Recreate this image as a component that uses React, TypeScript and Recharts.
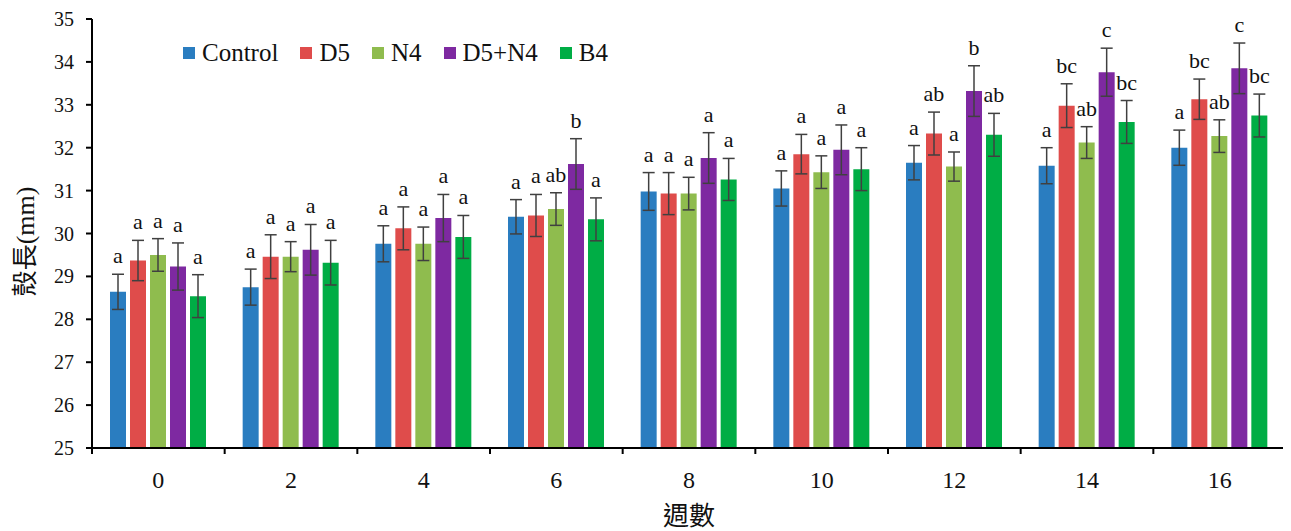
import React from 'react';
import { Bar, BarChart, ErrorBar, Label, LabelList, Legend, XAxis, YAxis } from 'recharts';

const weeks = ['0', '2', '4', '6', '8', '10', '12', '14', '16'];

const control = [28.64, 28.75, 29.76, 30.39, 30.98, 31.05, 31.65, 31.58, 32.0];
const controlErr = [0.41, 0.42, 0.42, 0.4, 0.44, 0.41, 0.4, 0.42, 0.41];
const controlSig = ['a', 'a', 'a', 'a', 'a', 'a', 'a', 'a', 'a'];

const d5 = [29.37, 29.46, 30.12, 30.42, 30.93, 31.85, 32.33, 32.98, 33.13];
const d5Err = [0.47, 0.51, 0.5, 0.49, 0.49, 0.46, 0.5, 0.51, 0.47];
const d5Sig = ['a', 'a', 'a', 'a', 'a', 'a', 'ab', 'bc', 'bc'];

const n4 = [29.5, 29.46, 29.76, 30.57, 30.93, 31.43, 31.56, 32.12, 32.27];
const n4Err = [0.38, 0.35, 0.39, 0.38, 0.38, 0.38, 0.34, 0.37, 0.38];
const n4Sig = ['a', 'a', 'a', 'ab', 'a', 'a', 'a', 'ab', 'ab'];

const d5n4 = [29.23, 29.62, 30.36, 31.62, 31.76, 31.95, 33.32, 33.76, 33.85];
const d5n4Err = [0.55, 0.59, 0.55, 0.59, 0.59, 0.58, 0.59, 0.56, 0.59];
const d5n4Sig = ['a', 'a', 'a', 'b', 'a', 'a', 'b', 'c', 'c'];

const b4 = [28.54, 29.32, 29.92, 30.33, 31.26, 31.5, 32.3, 32.6, 32.75];
const b4Err = [0.5, 0.52, 0.5, 0.5, 0.49, 0.5, 0.5, 0.5, 0.5];
const b4Sig = ['a', 'a', 'a', 'a', 'a', 'a', 'ab', 'bc', 'bc'];

const yTicks = [25, 26, 27, 28, 29, 30, 31, 32, 33, 34, 35];
const Y_MIN = 25;
const Y_MAX = 35;

const SERIF = "'Liberation Serif', 'Times New Roman', Times, 'DejaVu Serif', serif";
const SERIF_CJK = "'Liberation Serif', 'Times New Roman', Times, 'Noto Sans CJK TC', serif";
const TICK_SIZE = 6;
const X_TICK_MARGIN = 17;

const series = [
  { key: 'control', name: 'Control', color: '#2A7DC0', values: control, errors: controlErr, sig: controlSig },
  { key: 'd5', name: 'D5', color: '#DF4C4B', values: d5, errors: d5Err, sig: d5Sig },
  { key: 'n4', name: 'N4', color: '#8FBC4E', values: n4, errors: n4Err, sig: n4Sig },
  { key: 'd5n4', name: 'D5+N4', color: '#7E29A1', values: d5n4, errors: d5n4Err, sig: d5n4Sig },
  { key: 'b4', name: 'B4', color: '#00AD45', values: b4, errors: b4Err, sig: b4Sig },
];

const data = weeks.map((week, i) => {
  const row: Record<string, string | number> = { week };
  series.forEach((s) => {
    row[s.key] = s.values[i];
    row[s.key + 'Err'] = s.errors[i];
    row[s.key + 'Sig'] = s.sig[i];
  });
  return row;
});

// letters sit above the error bar cap; px/unit taken from the bar's own height
const makeSigLabel = (vals: number[], errs: number[]) => (props: any) => {
  const box = props.viewBox ?? props;
  const i = props.index;
  if (box == null || i == null) return null;
  const h = Math.abs(box.height);
  const top = Math.min(box.y, box.y + box.height);
  const pxPerUnit = h / (vals[i] - Y_MIN);
  const capY = top - errs[i] * pxPerUnit;
  return (
    <text
      x={box.x + box.width / 2}
      y={capY - 11}
      textAnchor="middle"
      fontFamily={SERIF}
      fontSize={22}
      fill="#111"
    >
      {props.value}
    </text>
  );
};

const WeekTick = (props: any) => {
  const { x, y, payload, index, visibleTicksCount } = props;
  const half = payload.offset ?? 0;
  const axisY = y - TICK_SIZE - X_TICK_MARGIN;
  return (
    <g>
      <line x1={x - half} x2={x - half} y1={axisY} y2={axisY + TICK_SIZE} stroke="#000" strokeWidth={2} />
      {index === visibleTicksCount - 1 && (
        <line x1={x + half} x2={x + half} y1={axisY} y2={axisY + TICK_SIZE} stroke="#000" strokeWidth={2} />
      )}
      <text x={x} y={y} dy="0.71em" textAnchor="middle" fontFamily={SERIF} fontSize={24} fill="#111">
        {payload.value}
      </text>
    </g>
  );
};

const ValueTick = (props: any) => {
  const { x, y, payload } = props;
  return (
    <text x={x} y={y} dy="0.35em" textAnchor="end" fontFamily={SERIF} fontSize={20} fill="#111">
      {payload.value}
    </text>
  );
};

const seriesOrder = series.map((s) => s.name);

const renderLegend = (props: any) => {
  const items = [...(props.payload || [])].sort(
    (a: any, b: any) => seriesOrder.indexOf(a.value) - seriesOrder.indexOf(b.value)
  );
  return (
    <div style={{ display: 'flex', alignItems: 'center', fontFamily: SERIF, fontSize: 25, color: '#111', lineHeight: '29px' }}>
      {items.map((p: any) => (
        <div key={p.value} style={{ display: 'flex', alignItems: 'center', marginRight: 22 }}>
          <span style={{ display: 'inline-block', width: 12, height: 12, background: p.color, marginRight: 7 }} />
          <span>{p.value}</span>
        </div>
      ))}
    </div>
  );
};

export default function App() {
  return (
    <div style={{ width: 1283, height: 523 }}>
      <BarChart
        width={1283}
        height={523}
        data={data}
        margin={{ top: 11, right: 5, left: 0, bottom: 23 }}
        barSize={16}
        barGap={4}
      >
        <XAxis
          dataKey="week"
          interval={0}
          height={60}
          tickSize={TICK_SIZE}
          tickMargin={X_TICK_MARGIN}
          tickLine={false}
          axisLine={{ stroke: '#000', strokeWidth: 2 }}
          tick={<WeekTick />}
        >
          <Label
            content={(p: any) => {
              const vb = p.viewBox;
              return (
                <text
                  x={vb.x + vb.width / 2}
                  y={vb.y + 68}
                  textAnchor="middle"
                  dominantBaseline="central"
                  fontFamily={SERIF_CJK}
                  fontSize={26}
                  fill="#111"
                >
                  週數
                </text>
              );
            }}
          />
        </XAxis>
        <YAxis
          domain={[Y_MIN, Y_MAX]}
          ticks={yTicks}
          allowDataOverflow
          width={84}
          tickSize={TICK_SIZE}
          tickMargin={12}
          axisLine={{ stroke: '#000', strokeWidth: 2 }}
          tickLine={{ stroke: '#000', strokeWidth: 2 }}
          tick={<ValueTick />}
        >
          <Label
            content={(p: any) => {
              const vb = p.viewBox;
              const cx = vb.x + 17;
              const cy = vb.y + vb.height / 2 + 8;
              return (
                <text
                  x={cx}
                  y={cy}
                  transform={`rotate(-90 ${cx} ${cy})`}
                  textAnchor="middle"
                  dominantBaseline="central"
                  fontFamily={SERIF_CJK}
                  fontSize={26}
                  fill="#111"
                >
                  殼長(mm)
                </text>
              );
            }}
          />
        </YAxis>
        <Legend
          layout="horizontal"
          verticalAlign="middle"
          align="center"
          wrapperStyle={{ top: 30, left: 175, width: 'auto' }}
          content={renderLegend}
        />
        {series.map((s) => (
          <Bar key={s.key} dataKey={s.key} name={s.name} fill={s.color} isAnimationActive={false}>
            <ErrorBar dataKey={s.key + 'Err'} width={6} stroke="#404040" strokeWidth={1.5} direction="y" />
            <LabelList dataKey={s.key + 'Sig'} content={makeSigLabel(s.values, s.errors)} />
          </Bar>
        ))}
      </BarChart>
    </div>
  );
}
